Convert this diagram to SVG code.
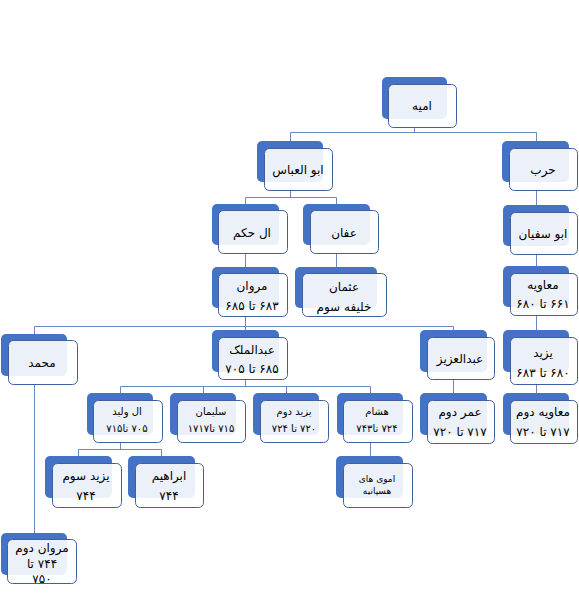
<svg xmlns="http://www.w3.org/2000/svg" width="579" height="594" viewBox="0 0 579 594">
<style>
.bk{fill:#4472C4;}
.fr{fill:#FFFFFF;fill-opacity:0.9;stroke:#3F5F9E;stroke-width:1;}
.t{font-family:"DejaVu Sans",sans-serif;font-size:12px;fill:#000;text-anchor:middle;direction:rtl;}
.s{font-size:10px;}
.xs{font-size:9px;}
.cn{fill:none;stroke:#6A87BF;stroke-width:1;}
</style>
<rect width="579" height="594" fill="#FFFFFF"/>
<g id="connectors" class="cn">
<path d="M414.5 127V132.5M290.5 132.5H536.5M290.5 132.5V141M536.5 132.5V141"/>
<path d="M290.5 190V197.5M245.5 197.5H336.5M245.5 197.5V204M336.5 197.5V204"/>
<path d="M536.5 190V205"/>
<path d="M245.5 253V267"/>
<path d="M336.5 253V267"/>
<path d="M536.5 254V266"/>
<path d="M536.5 315V330"/>
<path d="M536.5 384V393"/>
<path d="M245.5 316V326.5M34.5 326.5H453.5M34.5 326.5V334M245.5 326.5V330M453.5 326.5V330"/>
<path d="M245.5 379V386.5M120.5 386.5H370.5M120.5 386.5V393M203.5 386.5V393M286.5 386.5V393M370.5 386.5V393"/>
<path d="M453.5 379V393"/>
<path d="M120.5 442V449.5M78.5 449.5H161.5M78.5 449.5V456M161.5 449.5V456"/>
<path d="M370.5 442V456"/>
<path d="M34.5 384V533"/>
</g>
<g id="amiyah"><rect class="bk" x="382" y="77" width="65" height="42" rx="5"/><rect class="fr" x="388.5" y="84.5" width="68" height="43" rx="5"/><text class="t" x="422" y="110">امیه</text></g>
<g id="abulabbas"><rect class="bk" x="257" y="141" width="66" height="41" rx="5"/><rect class="fr" x="264.5" y="148.5" width="68" height="42" rx="5"/><text class="t" x="298" y="174">ابو العباس</text></g>
<g id="harb"><rect class="bk" x="502" y="141" width="67" height="41" rx="5"/><rect class="fr" x="509.5" y="148.5" width="68" height="42" rx="5"/><text class="t" x="543" y="174">حرب</text></g>
<g id="alhakam"><rect class="bk" x="212" y="204" width="67" height="41" rx="5"/><rect class="fr" x="218.5" y="210.5" width="69" height="43" rx="5"/><text class="t" x="252" y="237">ال حکم</text></g>
<g id="affan"><rect class="bk" x="303" y="204" width="67" height="41" rx="5"/><rect class="fr" x="310.5" y="210.5" width="68" height="43" rx="5"/><text class="t" x="344" y="237">عفان</text></g>
<g id="abusufyan"><rect class="bk" x="503" y="205" width="66" height="41" rx="5"/><rect class="fr" x="510.5" y="212.5" width="67" height="42" rx="5"/><text class="t" x="543" y="238">ابو سفیان</text></g>
<g id="marwan"><rect class="bk" x="212" y="267" width="67" height="41" rx="5"/><rect class="fr" x="218.5" y="273.5" width="69" height="43" rx="5"/><text class="t" x="252" y="290">مروان</text><text class="t" x="252" y="310">۶۸۳ تا ۶۸۵</text></g>
<g id="uthman"><rect class="bk" x="295" y="267" width="82" height="41" rx="5"/><rect class="fr" x="302.5" y="273.5" width="84" height="43" rx="5"/><text class="t" x="344" y="291">عثمان</text><text class="t" x="344" y="311">خلیفه سوم</text></g>
<g id="muawiya"><rect class="bk" x="503" y="266" width="66" height="41" rx="5"/><rect class="fr" x="510.5" y="273.5" width="67" height="42" rx="5"/><text class="t" x="543" y="289">معاویه</text><text class="t" x="543" y="308">۶۶۱ تا ۶۸۰</text></g>
<g id="muhammad"><rect class="bk" x="1" y="334" width="66" height="42" rx="5"/><rect class="fr" x="8.5" y="340.5" width="69" height="44" rx="5"/><text class="t" x="42" y="367">محمد</text></g>
<g id="abdalmalik"><rect class="bk" x="212" y="330" width="67" height="42" rx="5"/><rect class="fr" x="218.5" y="337.5" width="69" height="42" rx="5"/><text class="t" x="252" y="354">عبدالملک</text><text class="t" x="252" y="373">۶۸۵ تا ۷۰۵</text></g>
<g id="abdalaziz"><rect class="bk" x="420" y="330" width="67" height="42" rx="5"/><rect class="fr" x="427.5" y="337.5" width="67" height="42" rx="5"/><text class="t" x="460" y="363">عبدالعزیز</text></g>
<g id="yazid"><rect class="bk" x="503" y="330" width="66" height="42" rx="5"/><rect class="fr" x="510.5" y="337.5" width="67" height="47" rx="5"/><text class="t" x="543" y="357">یزید</text><text class="t" x="543" y="377">۶۸۰ تا ۶۸۳</text></g>
<g id="muawiya2"><rect class="bk" x="503" y="393" width="66" height="42" rx="5"/><rect class="fr" x="510.5" y="400.5" width="67" height="43" rx="5"/><text class="t" x="543" y="416">معاویه دوم</text><text class="t" x="543" y="436">۷۱۷ تا ۷۲۰</text></g>
<g id="umar2"><rect class="bk" x="420" y="393" width="67" height="42" rx="5"/><rect class="fr" x="427.5" y="400.5" width="67" height="43" rx="5"/><text class="t" x="460" y="416">عمر دوم</text><text class="t" x="460" y="436">۷۱۷ تا ۷۲۰</text></g>
<g id="alwalid"><rect class="bk" x="87" y="393" width="66" height="42" rx="5"/><rect class="fr" x="93.5" y="400.5" width="69" height="42" rx="5"/><text class="t s" x="127" y="415">ال ولید</text><text class="t s" x="127" y="432">۷۰۵ تا۷۱۵</text></g>
<g id="sulayman"><rect class="bk" x="170" y="393" width="66" height="42" rx="5"/><rect class="fr" x="177.5" y="400.5" width="68" height="42" rx="5"/><text class="t s" x="211" y="415">سلیمان</text><text class="t s" x="211" y="432">۷۱۵ تا۱۷۱۷</text></g>
<g id="yazid2"><rect class="bk" x="253" y="393" width="66" height="42" rx="5"/><rect class="fr" x="260.5" y="400.5" width="68" height="42" rx="5"/><text class="t s" x="294" y="415">یزید دوم</text><text class="t s" x="294" y="432">۷۲۰ تا ۷۲۴</text></g>
<g id="hisham"><rect class="bk" x="337" y="393" width="66" height="42" rx="5"/><rect class="fr" x="343.5" y="400.5" width="69" height="42" rx="5"/><text class="t s" x="377" y="415">هشام</text><text class="t s" x="377" y="432">۷۲۴ تا۷۴۳</text></g>
<g id="yazid3"><rect class="bk" x="45" y="456" width="67" height="42" rx="5"/><rect class="fr" x="52.5" y="463.5" width="69" height="44" rx="5"/><text class="t" x="86" y="480">یزید سوم</text><text class="t" x="86" y="500">۷۴۴</text></g>
<g id="ibrahim"><rect class="bk" x="128" y="456" width="67" height="42" rx="5"/><rect class="fr" x="135.5" y="463.5" width="68" height="44" rx="5"/><text class="t" x="169" y="480">ابراهیم</text><text class="t" x="169" y="500">۷۴۴</text></g>
<g id="umayyadhispania"><rect class="bk" x="336" y="456" width="67" height="42" rx="5"/><rect class="fr" x="343.5" y="463.5" width="69" height="44" rx="5"/><text class="t xs" x="377" y="482">اموی های</text><text class="t xs" x="377" y="494">هسپانیه</text></g>
<g id="marwan2"><rect class="bk" x="1" y="533" width="66" height="42" rx="5"/><rect class="fr" x="7.5" y="539.5" width="69" height="44" rx="5"/><text class="t" x="42" y="552">مروان دوم</text><text class="t" x="42" y="568">۷۴۴  تا</text><text class="t" x="42" y="583">۷۵۰</text></g>
</svg>
